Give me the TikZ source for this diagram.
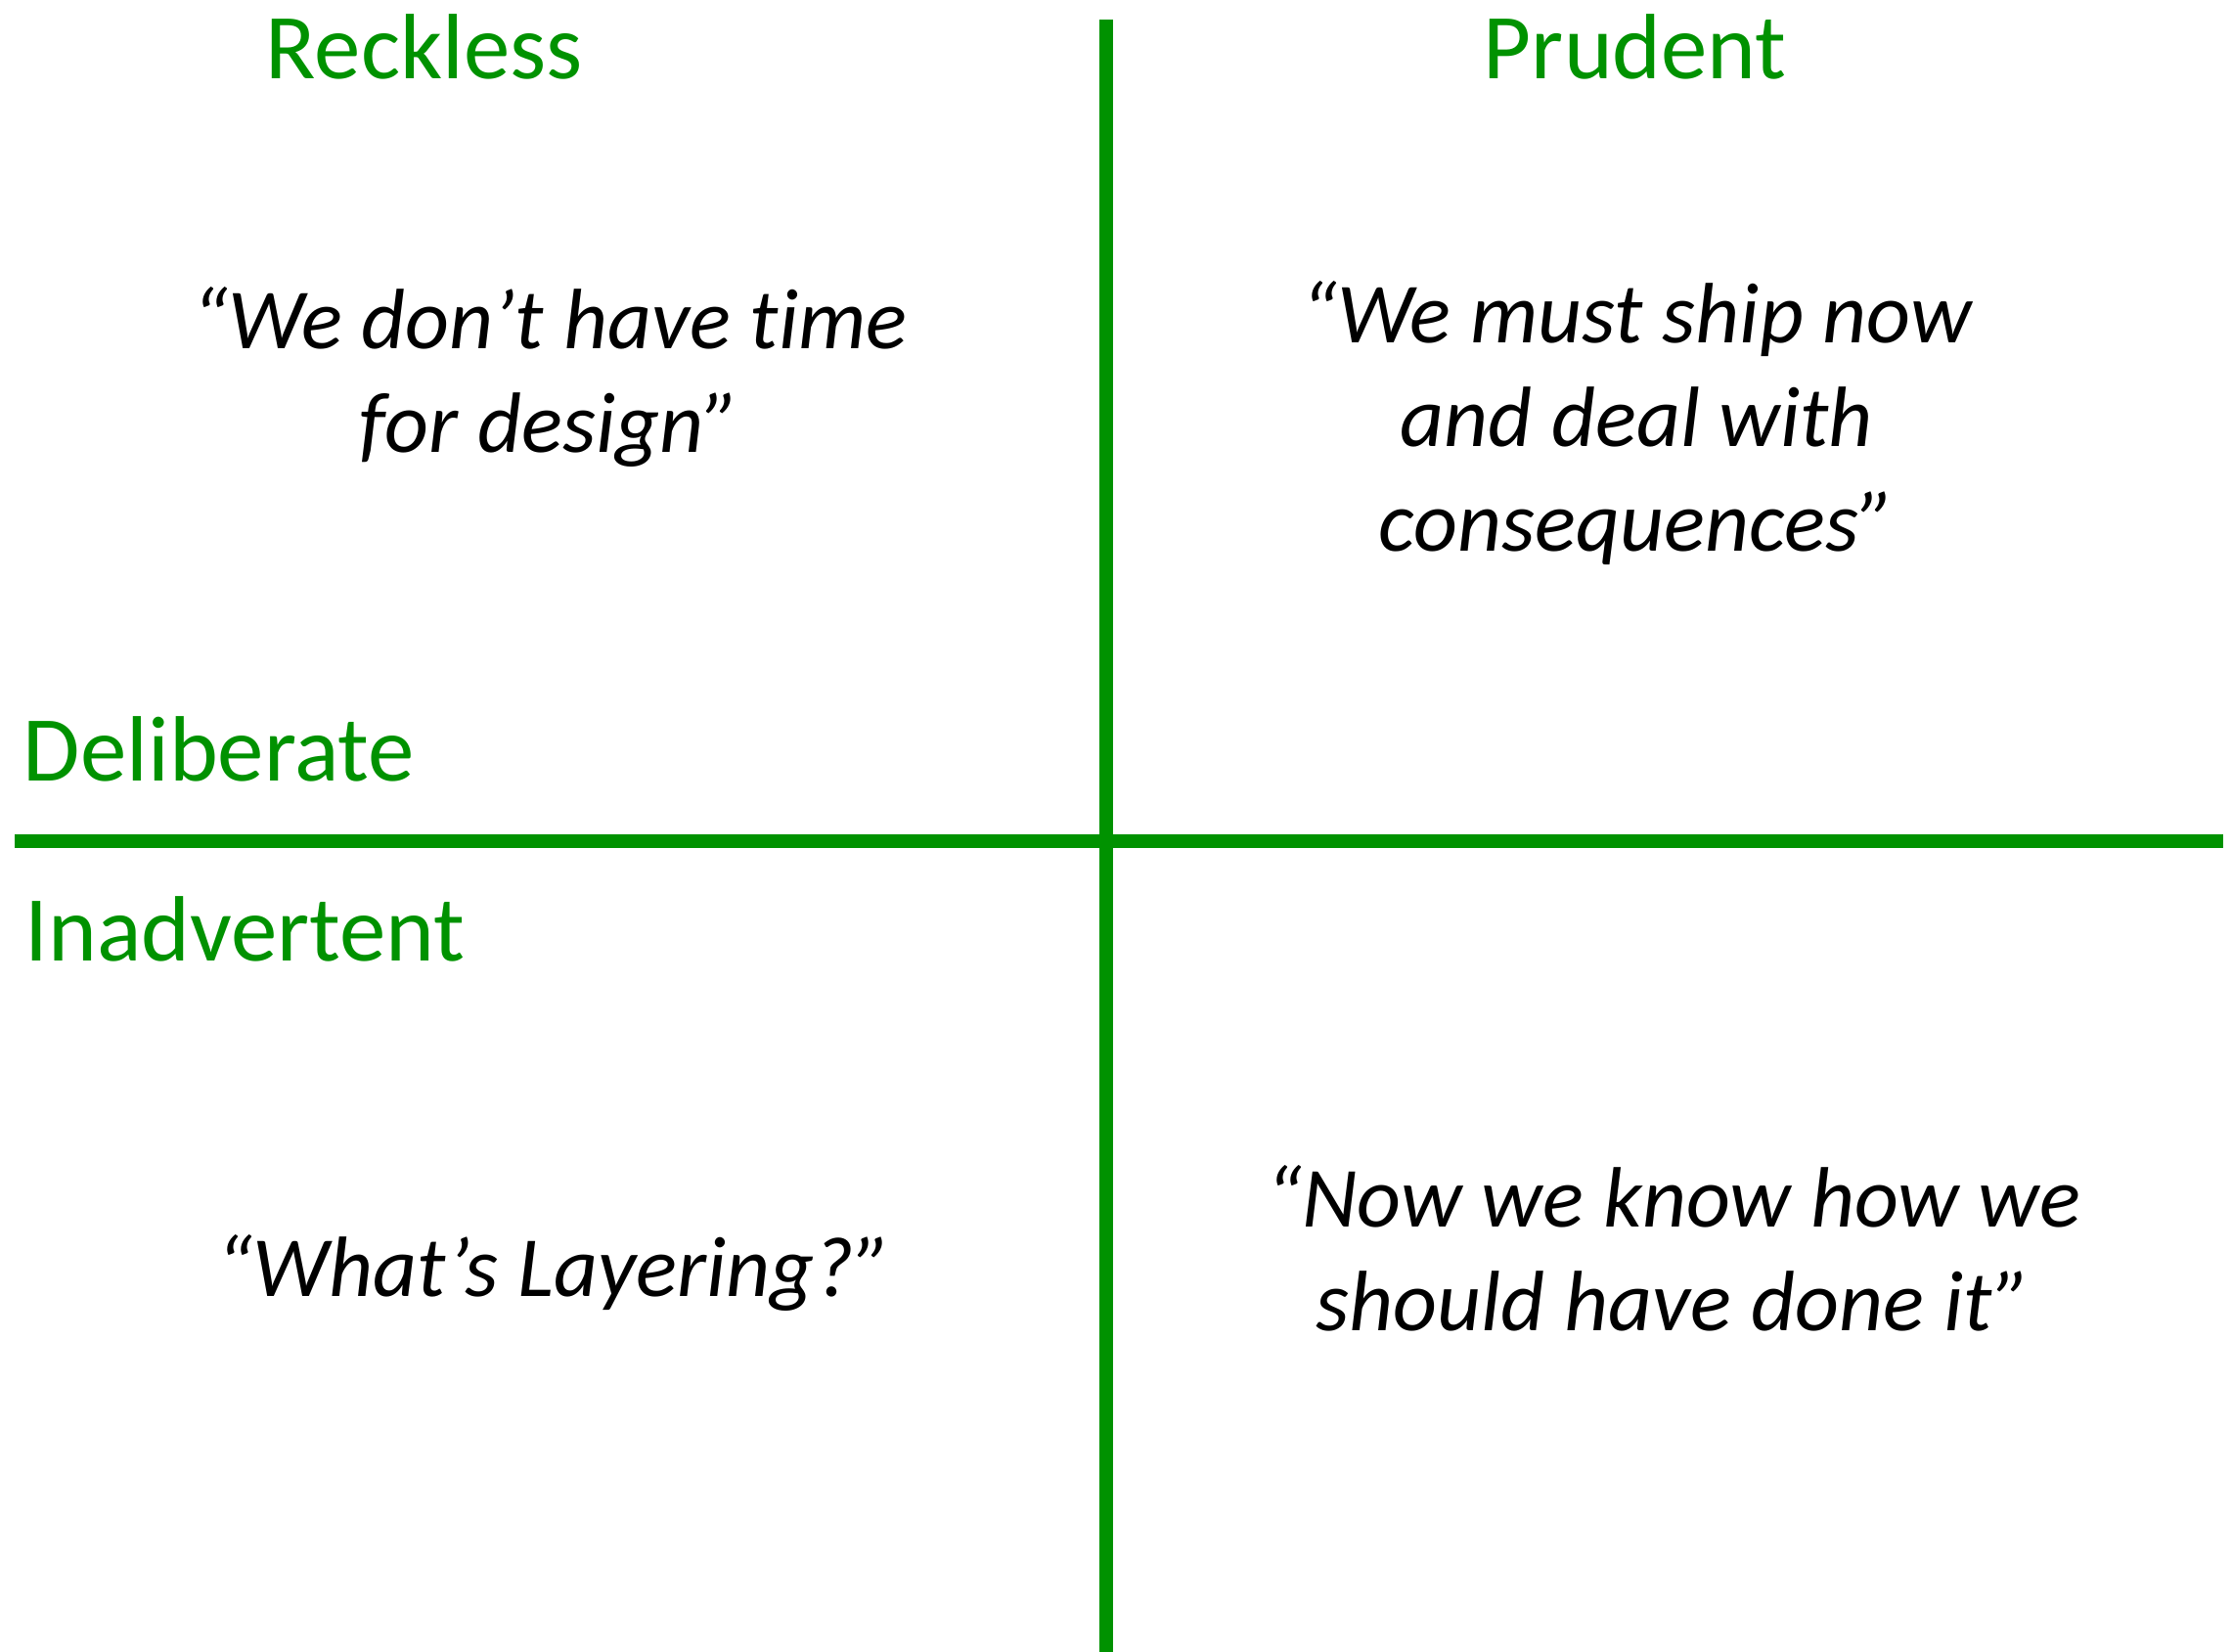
\documentclass[tikz,border=0pt]{standalone}
\usepackage{fontspec}
\setmainfont[Ligatures=NoCommon]{Carlito}
\definecolor{axisgreen}{RGB}{0,146,0}
\begin{document}
\begin{tikzpicture}[x=0.5pt,y=-0.5pt,
  axis/.style={draw=axisgreen,line width=4.8pt},
  label/.style={text=axisgreen,font=\fontsize{32.5}{40}\selectfont,inner sep=0pt,anchor=base},
  quote/.style={font=\fontsize{30}{36.5}\selectfont\itshape,align=center,inner sep=0pt,anchor=base}]
\useasboundingbox (0,0) rectangle (1563,1156.2);
% axes
\coordinate (vtop) at (774.6,13.7);
\coordinate (vbot) at (774.6,1160);
\coordinate (hl) at (10.3,589);
\coordinate (hr) at (1557,589);
\draw[axis] (hl) -- (hr);
\draw[axis] (vtop) -- (vbot);
% labels
\node[label] (reckless) at (297,54.8) {Reckless};
\node[label] (prudent) at (1145,54.8) {Prudent};
\node[label,anchor=base west] (deliberate) at (16,546.6) {Deliberate};
\node[label,anchor=base west] (inadvertent) at (17,672.6) {Inadvertent};
% quotes (anchor base = last line baseline)
\node[quote] (q1) at (385,317) {“We don’t have time\\for design”};
\node[quote] (q2) at (1146,386) {“We must ship now\\and deal with\\consequences”};
\node[quote] (q3) at (388,908) {“What’s Layering?”};
\node[quote] (q4) at (1172,932) {“Now we know how we\\should have done it”};
\end{tikzpicture}
\end{document}
